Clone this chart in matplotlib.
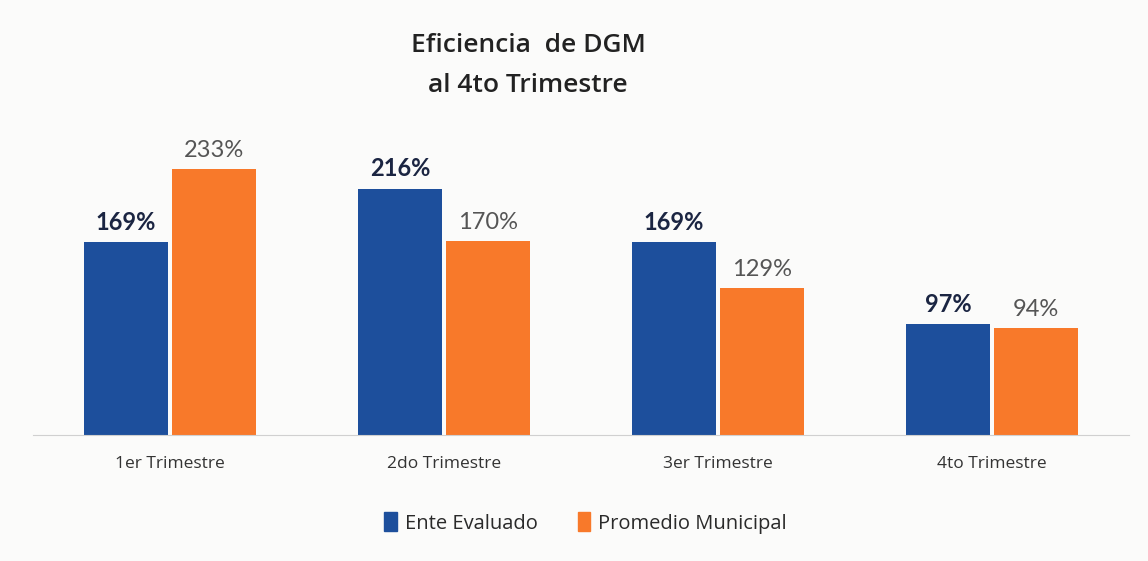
import numpy as np
import matplotlib
matplotlib.use("Agg")
import matplotlib.pyplot as plt
from matplotlib.patches import Patch

categories = ["1er Trimestre", "2do Trimestre", "3er Trimestre", "4to Trimestre"]
ente = [169, 216, 169, 97]
promedio = [233, 170, 129, 94]
series_names = ["Ente Evaluado", "Promedio Municipal"]

blue = "#1d4f9c"
orange = "#f8792a"
narrow = ["Open Sans", "DejaVu Sans"]

fig = plt.figure(figsize=(11.48, 5.61), dpi=100)
fig.patch.set_facecolor("#fbfbfa")
ax = fig.add_axes([33 / 1148, 126 / 561, 1096 / 1148, 285 / 561])
ax.set_facecolor("none")

x = np.arange(len(categories))
w = 84 / 274
off = w / 2 + 2 / 274
b1 = ax.bar(x - off, ente, w, color=blue)
b2 = ax.bar(x + off, promedio, w, color=orange)

for rect, v in zip(b1, ente):
    ax.annotate(f"{v}%", (rect.get_x() + rect.get_width() / 2, v),
                xytext=(0, 6), textcoords="offset points", ha="center", va="bottom",
                fontsize=17, fontweight="bold", color="#1b2542", family=["Lato", "DejaVu Sans"])
for rect, v in zip(b2, promedio):
    ax.annotate(f"{v}%", (rect.get_x() + rect.get_width() / 2, v),
                xytext=(0, 6), textcoords="offset points", ha="center", va="bottom",
                fontsize=17, color="#555555", family=["Lato", "DejaVu Sans"])

ax.set_xlim(-0.5, 3.5)
ax.set_ylim(0, 250)
ax.set_yticks([])
ax.set_xticks(x)
ax.set_xticklabels(categories, fontsize=12.5, color="#333333", family=narrow)
ax.tick_params(axis="x", length=0, pad=15)
for s in ["top", "right", "left"]:
    ax.spines[s].set_visible(False)
ax.spines["bottom"].set_color("#d0d0d0")

fig.text(0.46, 0.883, "Eficiencia  de DGM\nal 4to Trimestre", ha="center", va="center",
         fontsize=19, color="#222222", family=narrow, fontweight="semibold", linespacing=1.8)

handles = [Patch(color=blue), Patch(color=orange)]
fig.legend(handles, series_names, loc="center", bbox_to_anchor=(0.51, 0.068), ncol=2,
           frameon=False, handlelength=0.6, handleheight=1.1,
           handletextpad=0.4, columnspacing=2.0, prop={"family": narrow, "size": 14.5},
           labelcolor="#2a2a2a")

fig.savefig("out.png", dpi=100, facecolor=fig.get_facecolor())
